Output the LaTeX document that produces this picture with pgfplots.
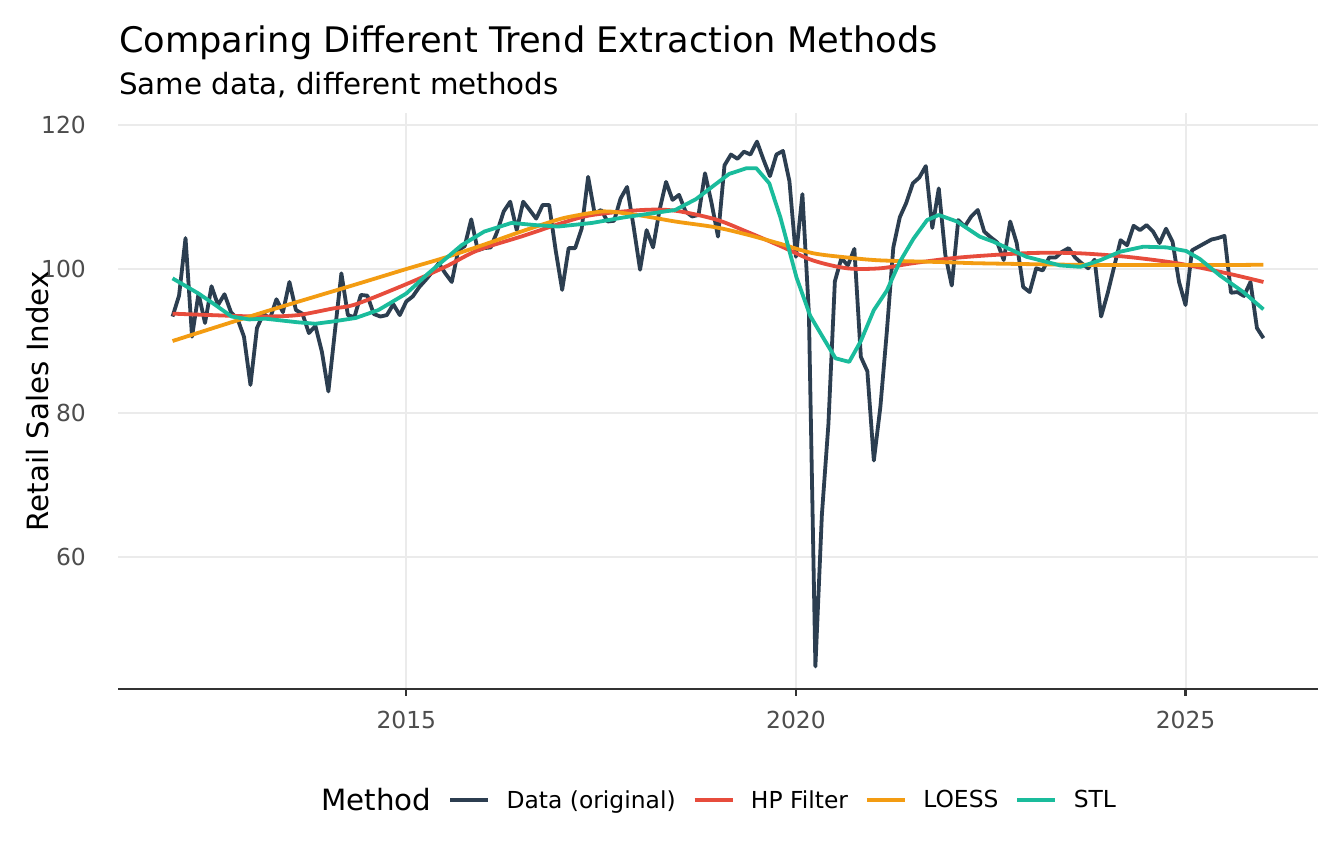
\documentclass[border=0pt]{standalone}
\usepackage{fontspec}
\setmainfont{DejaVu Sans}
\usepackage{pgfplots}
\pgfplotsset{compat=1.18}
\usepackage{pgfplotstable}
\definecolor{cdata}{HTML}{2C3E50}
\definecolor{chp}{HTML}{E74C3C}
\definecolor{cloess}{HTML}{F39C12}
\definecolor{cstl}{HTML}{1ABC9C}
\definecolor{gridc}{HTML}{EBEBEB}
\definecolor{axisc}{HTML}{333333}
\definecolor{tickc}{HTML}{4D4D4D}

% month index (0 = Jan 2012) and value
\pgfplotstableread{
m v
0 93.4
1 96.3
2 104.3
3 90.6
4 96.6
5 92.5
6 97.6
7 95.0
8 96.5
9 94.0
10 93.1
11 90.6
12 83.9
13 91.8
14 93.8
15 93.1
16 95.8
17 94.0
18 98.2
19 94.3
20 93.8
21 91.1
22 92.1
23 88.5
24 83.0
25 91.3
26 99.4
27 93.6
28 93.3
29 96.4
30 96.3
31 93.75
32 93.4
33 93.6
34 95.1
35 93.6
36 95.5
37 96.2
38 97.5
39 98.5
40 99.6
41 100.8
42 99.4
43 98.2
44 102.6
45 103.2
46 106.9
47 102.6
48 102.9
49 103.0
50 105.2
51 108.0
52 109.35
53 105.4
54 109.35
55 108.2
56 107.0
57 108.9
58 108.9
59 102.6
60 97.1
61 102.9
62 102.9
63 105.6
64 112.8
65 107.7
66 108.2
67 106.6
68 106.7
69 109.8
70 111.4
71 105.9
72 99.9
73 105.4
74 103.0
75 108.2
76 112.1
77 109.6
78 110.3
79 108.0
80 107.3
81 107.5
82 113.3
83 109.2
84 104.5
85 114.4
86 115.9
87 115.3
88 116.3
89 115.9
90 117.7
91 115.2
92 112.9
93 115.9
94 116.4
95 112.2
96 101.7
97 110.4
98 93.8
99 44.8
100 65.9
101 78.4
102 98.3
103 101.5
104 100.5
105 102.8
106 87.8
107 85.8
108 73.4
109 80.8
110 91.3
111 103.0
112 107.2
113 109.2
114 111.9
115 112.7
116 114.3
117 105.7
118 111.2
119 102.0
120 97.7
121 106.8
122 105.9
123 107.3
124 108.2
125 105.2
126 104.4
127 103.7
128 101.25
129 106.6
130 103.6
131 97.5
132 96.8
133 100.1
134 99.8
135 101.6
136 101.6
137 102.4
138 102.9
139 101.6
140 100.8
141 100.1
142 101.3
143 93.4
144 96.6
145 100.3
146 104.0
147 103.3
148 106.0
149 105.4
150 106.1
151 105.2
152 103.6
153 105.6
154 103.8
155 98.2
156 95.0
157 102.6
158 103.1
159 103.6
160 104.1
161 104.3
162 104.6
163 96.7
164 96.8
165 96.25
166 98.2
167 91.8
168 90.4
}\datatab

\pgfplotstableread{
m v
0 93.8
9.1 93.5
14.3 93.4
19.3 93.6
24.6 94.5
28.2 95.1
36 97.9
42 100.3
47 102.6
54 104.6
60 106.4
64.6 107.5
72.4 108.2
77.4 108.1
83.6 106.9
88.4 105.2
93.6 103.2
98.6 101.2
103.9 100.1
109 100.1
114 100.8
121.2 101.6
131.5 102.2
139.2 102.2
146.9 101.7
154.7 100.8
162.4 99.4
168 98.2
}\hptab

\pgfplotstableread{
m v
0 90.0
14 94.0
28 97.8
36 100.0
42 101.6
48 103.4
54 105.3
59.5 106.9
62 107.4
64.6 107.8
67.1 108.0
72.3 107.4
77.4 106.6
83.6 105.8
88.4 104.8
93.6 103.5
98.6 102.2
103.9 101.6
109 101.2
119 100.95
124 100.8
138 100.6
150 100.55
162 100.55
168 100.6
}\loesstab

\pgfplotstableread{
m v
0 98.7
4 96.6
6.6 95.0
9.1 93.4
11.8 93.0
14.3 93.1
19.3 92.6
22 92.4
24.6 92.7
28.2 93.2
31.7 94.3
36 96.6
39.4 99.4
44.5 103.3
48 105.2
52.2 106.4
55.9 106.1
59.4 105.9
64.6 106.4
69.7 107.2
77.4 108.2
80.6 109.7
85.7 113.2
88.4 114.0
89.9 114.0
91.9 111.9
93.6 107.2
96.1 98.8
98.2 93.5
100.3 90.3
102.1 87.6
104.2 87.1
106 90.0
108 94.3
110 97.0
112 101.0
114.1 104.2
116.2 106.8
118 107.5
120.8 106.6
124.3 104.5
126.4 103.8
131.5 101.7
136.7 100.5
139.8 100.3
142.8 101.2
145.9 102.4
149.5 103.1
153.1 103.0
156.1 102.5
158.2 101.4
161.3 99.1
164.9 96.8
168 94.4
}\stltab

\begin{document}
\begin{tikzpicture}
\path[use as bounding box, fill=white] (0,0) rectangle (1344bp,864bp);
\begin{axis}[
  at={(118bp,175bp)}, anchor=south west,
  scale only axis, width=1200bp, height=575.5bp,
  xmin=-8.4, xmax=176.4, ymin=41.67, ymax=121.6,
  xtick={36,96,156}, xticklabels={2015,2020,2025},
  ytick={60,80,100,120},
  grid=major, major grid style={color=gridc, line width=2bp},
  separate axis lines, axis x line*=bottom, axis y line*=left,
  x axis line style={color=axisc, line width=2.6bp},
  y axis line style={draw=none},
  xtick style={color=axisc, line width=2.2bp}, ytick style={draw=none},
  tick align=outside, major tick length=7bp,
  /pgf/number format/assume math mode=true,
  ticklabel style={font=\fontsize{23.4bp}{28bp}\selectfont, text=tickc, inner sep=0pt},
  xticklabel style={anchor=north, yshift=-15bp},
  yticklabel style={anchor=east, xshift=-25bp},
  ylabel={Retail Sales Index},
  ylabel style={at={(axis description cs:-0.0575,0.5)}, anchor=south, inner sep=0pt, font=\fontsize{29.3bp}{35bp}\selectfont},
  legend columns=5,
  legend cell align=left,
  legend style={at={(axis description cs:0.4937,-0.1929)}, anchor=center, draw=none, fill=none,
    font=\fontsize{23.4bp}{28bp}\selectfont, nodes={inner sep=0pt},
    /tikz/every even column/.append style={column sep=17bp},
    /tikz/every odd column/.append style={column sep=16.5bp}},
  legend image code/.code={\draw[#1, line width=3.8bp] (0bp,0bp) -- (38bp,0bp);},
]
\addlegendimage{empty legend}
\addlegendentry{\fontsize{29.3bp}{35bp}\selectfont Method}
\addplot[color=cdata, line width=3.8bp, line join=round] table[x=m, y=v] {\datatab};
\addlegendentry{Data (original)}
\addplot[color=chp, line width=3.8bp, smooth] table[x=m, y=v] {\hptab};
\addlegendentry{HP Filter}
\addplot[color=cloess, line width=3.8bp, smooth] table[x=m, y=v] {\loesstab};
\addlegendentry{LOESS}
\addplot[color=cstl, line width=3.8bp, line join=round] table[x=m, y=v] {\stltab};
\addlegendentry{STL}
\end{axis}
\node[anchor=base west, inner sep=0pt, font=\fontsize{35.2bp}{42bp}\selectfont] at (119bp,811.5bp) {Comparing Different Trend Extraction Methods};
\node[anchor=base west, inner sep=0pt, font=\fontsize{29.3bp}{35bp}\selectfont] at (119bp,769.5bp) {Same data, different methods};
\end{tikzpicture}
\end{document}
